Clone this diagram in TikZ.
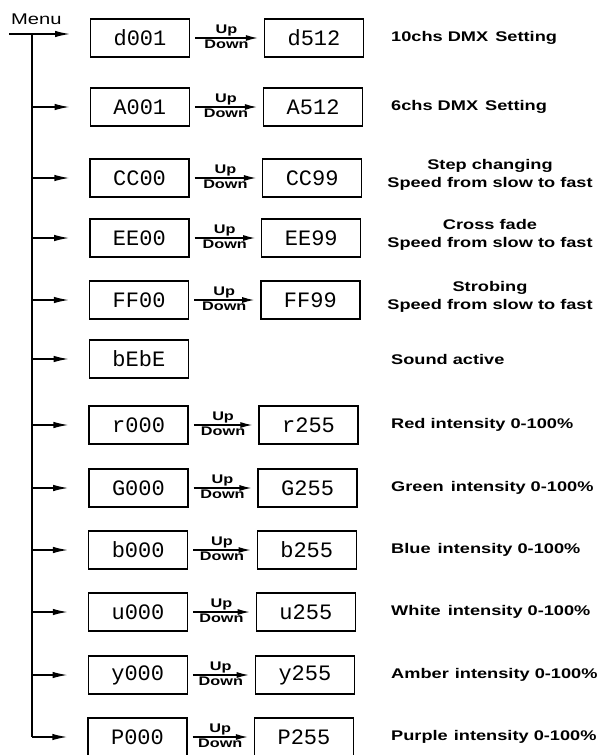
\documentclass[tikz,border=0pt]{standalone}
\usepackage{fontspec}
\setmainfont{Liberation Sans}[FakeStretch=1.3]
\newfontfamily\segfont{Liberation Mono}
\usetikzlibrary{arrows.meta, positioning}

\tikzset{
    lcd/.style={draw, line width=1.4pt, minimum width=99pt, minimum height=38pt,
        inner sep=0pt, font=\segfont\fontsize{22}{22}\selectfont},
    menuarrow/.style={-{Latex[length=15pt,width=6.5pt]}, line width=1.4pt},
    updown/.style={font=\bfseries\fontsize{12.5}{12.5}\selectfont, inner sep=1.2pt},
    setting/.style={font=\bfseries\fontsize{14}{18}\selectfont, inner sep=0pt}
}

\begin{document}
\begin{tikzpicture}[x=1pt, y=-1pt]
    \useasboundingbox (0,0) rectangle (599,755);

    % 1. Menu va truc doc
    \node[anchor=south west, font=\fontsize{15.5}{15.5}\selectfont, inner sep=0pt] (menu) at (11,25) {Menu};
    \coordinate (menuin) at (9,34);
    \coordinate (menuout) at (70,34);
    \coordinate (trunktop) at (32,34);
    \coordinate (trunkbot) at (32,737);
    \draw[menuarrow] (menuin) -- (menuout);
    \draw[line width=1.6pt] (trunktop) -- (trunkbot);

    % 2. O hien thi ben trai (gia tri dau)
    \foreach \i/\y/\txt in {1/38/d001, 2/107/A001, 3/178/CC00, 4/238/EE00,
        5/300/FF00, 6/359/bEbE, 7/425/r000, 8/488/G000, 9/550/b000,
        10/612/u000, 11/675/y000, 12/737/P000} {
        \pgfmathsetmacro{\xa}{140-2.5*(\i-1)/11}
        \node[lcd] (first\i) at (\xa,\y) {\txt};
        \coordinate (t\i) at (32,\y);
    }
    % nhanh ngang tu truc toi cac o (o 1 dung mui ten Menu)
    \foreach \i in {2,...,12} {
        \draw[menuarrow] (t\i) -- ([xshift=-20pt]first\i.west);
    }

    % 3. O hien thi ben phai (gia tri cuoi) voi mui ten Up/Down
    \foreach \i/\txt in {1/d512, 2/A512, 3/CC99, 4/EE99, 5/FF99, 7/r255,
        8/G255, 9/b255, 10/u255, 11/y255, 12/P255} {
        \pgfmathsetmacro{\xb}{314-10*(\i-1)/11}
        \node[lcd] (last\i) at (\xb,0 |- first\i) {\txt};
        \draw[-{Latex[length=12pt,width=6pt]}, line width=1.2pt] ([xshift=5pt]first\i.east) -- ([xshift=-6pt]last\i.west)
            node[midway, above, updown] {Up} node[midway, below, updown] {Down};
    }

    % 4. Chu thich ben phai
    \foreach \i/\t in {1/10chs DMX\hspace{2pt} Setting, 2/6chs DMX\hspace{2pt} Setting, 6/Sound active,
        7/Red intensity 0-100\%, 8/Green\hspace{2pt} intensity 0-100\%, 9/Blue\hspace{2pt} intensity 0-100\%,
        10/White\hspace{2pt} intensity 0-100\%, 11/Amber\hspace{1pt} intensity 0-100\%,
        12/Purple\hspace{1pt} intensity 0-100\%} {
        \node[setting, anchor=west] (note\i) at (391,0 |- first\i) {\t};
    }
    \foreach \i/\t in {3/Step changing, 4/Cross fade, 5/Strobing} {
        \node[setting, align=center, yshift=3pt] (note\i) at (490,0 |- first\i) {\t\\Speed from slow to fast};
    }

\end{tikzpicture}
\end{document}
